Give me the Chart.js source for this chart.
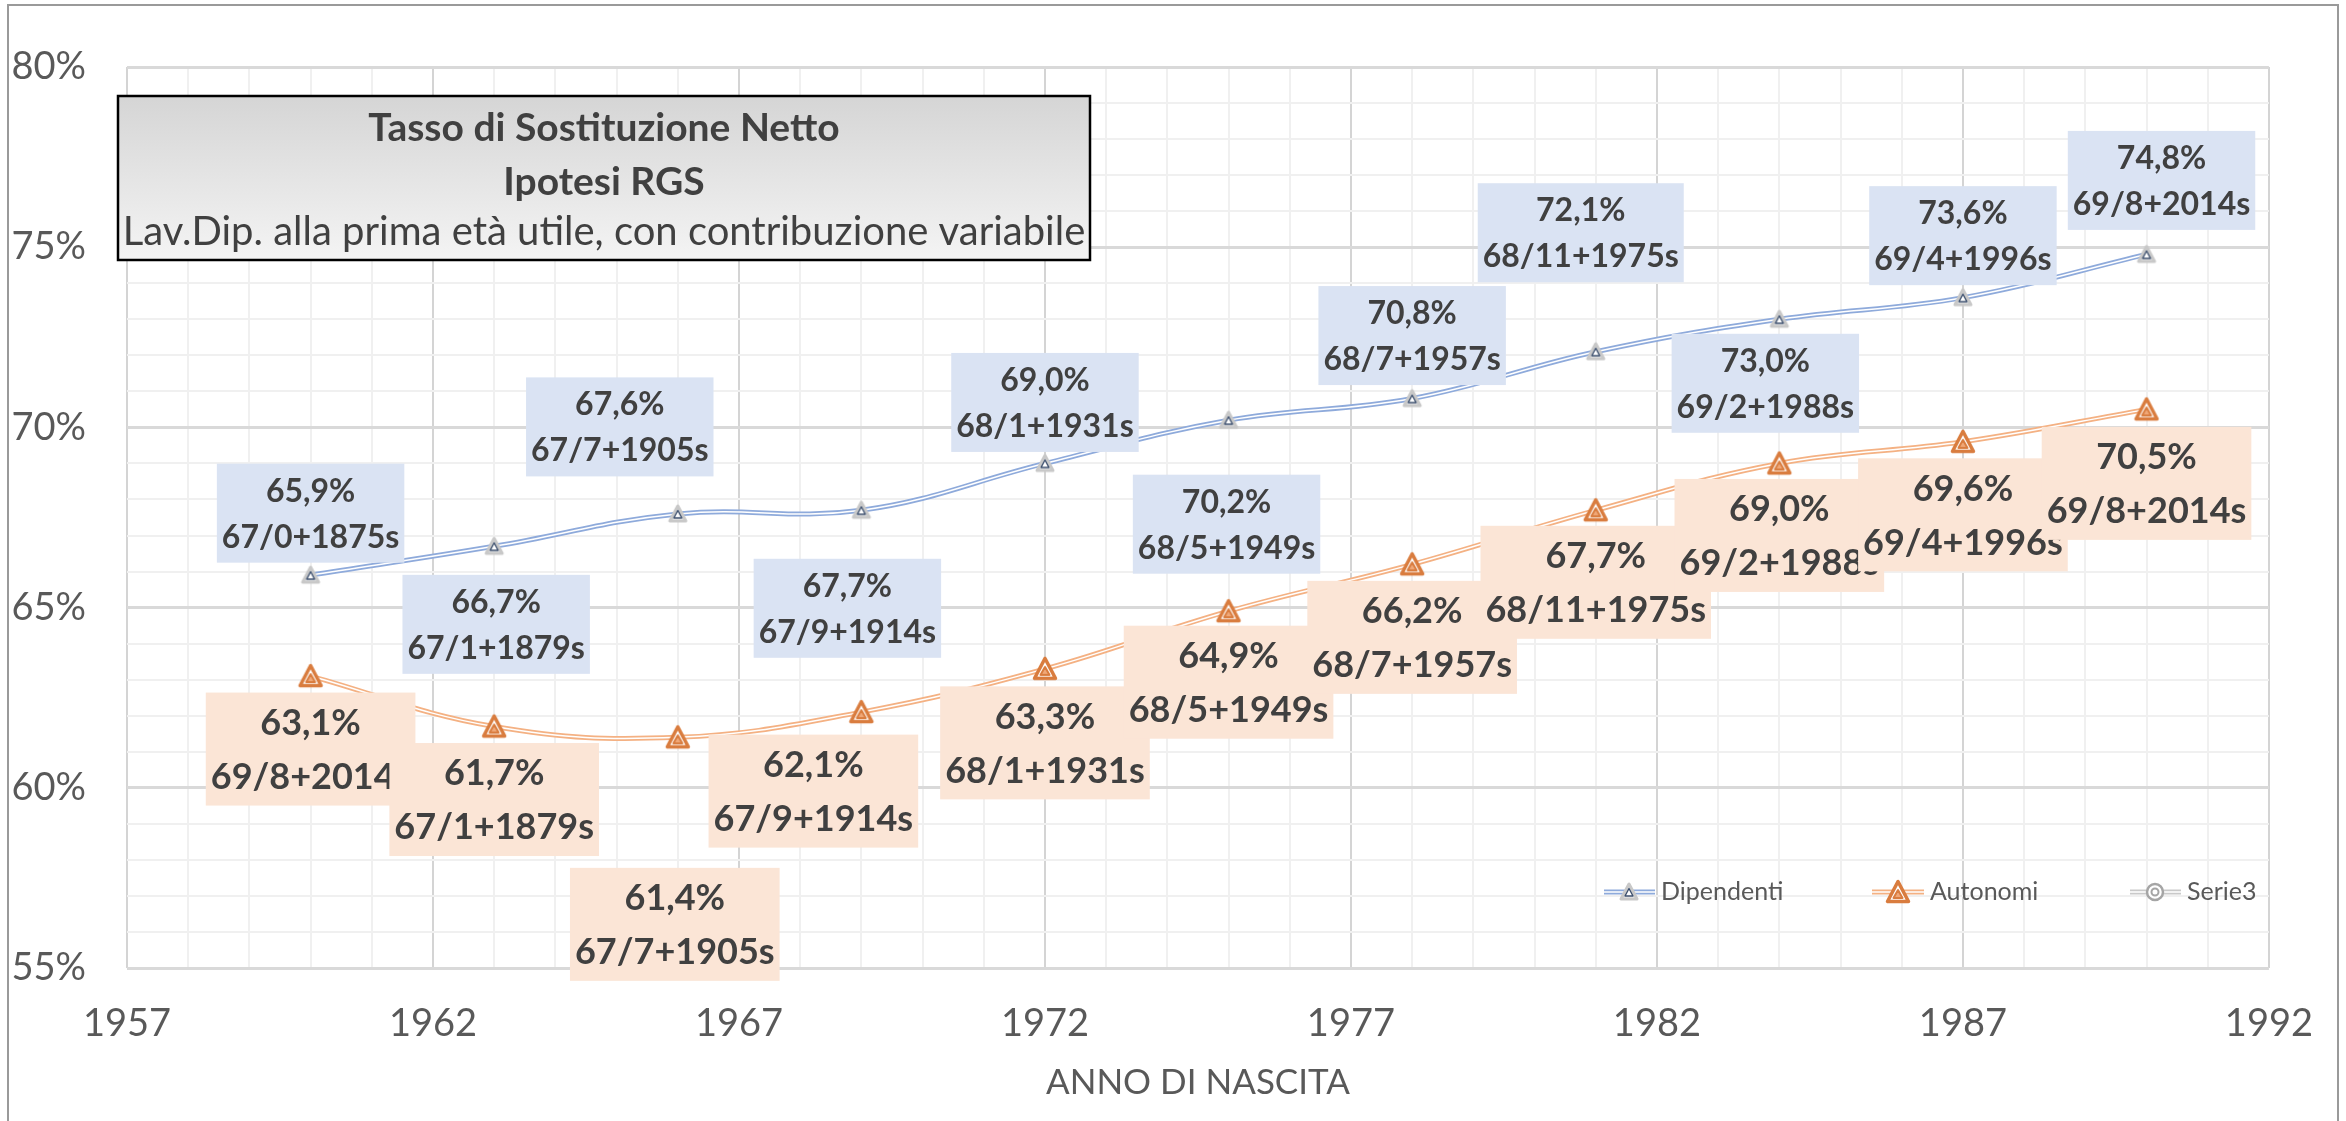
<!DOCTYPE html>
<html>
<head>
<meta charset="utf-8">
<script src="https://cdn.jsdelivr.net/npm/chart.js@4.4.1/dist/chart.umd.min.js"></script>
<style>
  body { margin: 0; background: #fff; }
</style>
</head>
<body>
<canvas id="myChart" width="2346" height="1121"></canvas>
<script>
// dati
const anni = [1960, 1963, 1966, 1969, 1972, 1975, 1978, 1981, 1984, 1987, 1990];
const dipendenti = [65.9, 66.7, 67.6, 67.7, 69.0, 70.2, 70.8, 72.1, 73.0, 73.6, 74.8];
const autonomi = [63.1, 61.7, 61.4, 62.1, 63.3, 64.9, 66.2, 67.7, 69.0, 69.6, 70.5];
const etichetteDip = ['67/0+1875s', '67/1+1879s', '67/7+1905s', '67/9+1914s', '68/1+1931s', '68/5+1949s',
  '68/7+1957s', '68/11+1975s', '69/2+1988s', '69/4+1996s', '69/8+2014s'];
const etichetteAut = ['69/8+2014s', '67/1+1879s', '67/7+1905s', '67/9+1914s', '68/1+1931s', '68/5+1949s',
  '68/7+1957s', '68/11+1975s', '69/2+1988s', '69/4+1996s', '69/8+2014s'];
const xTicks = [1957, 1962, 1967, 1972, 1977, 1982, 1987, 1992];
const yTicks = [55, 60, 65, 70, 75, 80];
const titolo = ['Tasso di Sostituzione Netto', 'Ipotesi RGS', 'Lav.Dip. alla prima età utile, con contribuzione variabile'];
const legenda = ['Dipendenti', 'Autonomi', 'Serie3'];

// spostamento dei riquadri etichetta rispetto al punto (px)
const offDip = [[0,-62],[2,78],[-58,-87],[-14,98],[0,-61],[-2,104],[0,-63],[-15,-119],[-14,64],[0,-62],[15,-74]];
const offAut = [[0,73],[0,73],[-3,187],[-48,79],[0,74],[0,71],[0,73],[0,72],[0,72],[0,73],[0,74]];

const pct = v => v.toFixed(1).replace('.', ',') + '%';
const puntiDip = anni.map((a, i) => ({ x: a, y: dipendenti[i] }));
const puntiAut = anni.map((a, i) => ({ x: a, y: autonomi[i] }));

function markerDip() {
  const c = document.createElement('canvas');
  c.width = 22; c.height = 22;
  const g = c.getContext('2d');
  g.lineJoin = 'round';
  g.beginPath(); g.moveTo(11, 3); g.lineTo(3, 18); g.lineTo(19, 18); g.closePath();
  g.fillStyle = '#f0f0f0'; g.fill();
  g.strokeStyle = '#c8c8c8'; g.lineWidth = 3; g.stroke();
  g.beginPath(); g.moveTo(11, 7.5); g.lineTo(7, 15); g.lineTo(15, 15); g.closePath();
  g.fillStyle = '#fff'; g.fill();
  g.strokeStyle = '#3c4f6d'; g.lineWidth = 1.4; g.stroke();
  return c;
}

function markerAut() {
  const c = document.createElement('canvas');
  c.width = 28; c.height = 28;
  const g = c.getContext('2d');
  g.lineJoin = 'round';
  g.beginPath(); g.moveTo(14, 3.5); g.lineTo(3.5, 23.5); g.lineTo(24.5, 23.5); g.closePath();
  g.fillStyle = '#fff'; g.fill();
  g.strokeStyle = '#d97c3e'; g.lineWidth = 3.5; g.stroke();
  g.beginPath(); g.moveTo(14, 12); g.lineTo(9.5, 20); g.lineTo(18.5, 20); g.closePath();
  g.fillStyle = '#f0a878'; g.fill();
  g.strokeStyle = '#d97c3e'; g.lineWidth = 2; g.stroke();
  return c;
}

function markerSerie3() {
  const c = document.createElement('canvas');
  c.width = 24; c.height = 24;
  const g = c.getContext('2d');
  g.beginPath(); g.arc(12, 12, 8, 0, Math.PI * 2);
  g.fillStyle = '#fff'; g.fill();
  g.strokeStyle = '#a5a5a5'; g.lineWidth = 2.5; g.stroke();
  g.beginPath(); g.arc(12, 12, 3.5, 0, Math.PI * 2);
  g.lineWidth = 2; g.stroke();
  return c;
}

function riquadro(ctx, cx, cy, r1, r2, size, gap, h, pad, fondo) {
  ctx.font = 'bold ' + size + 'px Lato';
  const w = Math.max(ctx.measureText(r1).width, ctx.measureText(r2).width) + pad * 2;
  ctx.fillStyle = fondo;
  ctx.fillRect(cx - w / 2, cy - h / 2, w, h);
  ctx.fillStyle = '#404040';
  ctx.textAlign = 'center';
  ctx.textBaseline = 'alphabetic';
  ctx.fillText(r1, cx, cy - gap + size * 0.358);
  ctx.fillText(r2, cx, cy + gap + size * 0.358);
}

function lineaDoppia(ctx, x1, x2, y, colore) {
  ctx.strokeStyle = colore; ctx.lineWidth = 5;
  ctx.beginPath(); ctx.moveTo(x1, y); ctx.lineTo(x2, y); ctx.stroke();
  ctx.strokeStyle = '#fff'; ctx.lineWidth = 1.5;
  ctx.beginPath(); ctx.moveTo(x1, y); ctx.lineTo(x2, y); ctx.stroke();
}

const mDip = markerDip();
const mAut = markerAut();
const mS3 = markerSerie3();

const sfondo = {
  id: 'sfondo',
  beforeDraw(chart) {
    const ctx = chart.ctx;
    ctx.save();
    ctx.fillStyle = '#fff';
    ctx.fillRect(0, 0, chart.width, chart.height);
    ctx.strokeStyle = '#9a9a9a';
    ctx.lineWidth = 2;
    ctx.strokeRect(8, 5, 2330, 1130);
    ctx.restore();
  }
};

const etichette = {
  id: 'etichette',
  afterDatasetsDraw(chart) {
    const ctx = chart.ctx;
    const sx = chart.scales.x, sy = chart.scales.y;
    ctx.save();
    anni.forEach((a, i) => {
      const px = sx.getPixelForValue(a), py = sy.getPixelForValue(dipendenti[i]);
      riquadro(ctx, px + offDip[i][0], py + offDip[i][1], pct(dipendenti[i]), etichetteDip[i], 32, 23, 99, 5, '#dae3f3');
    });
    anni.forEach((a, i) => {
      const px = sx.getPixelForValue(a), py = sy.getPixelForValue(autonomi[i]);
      riquadro(ctx, px + offAut[i][0], py + offAut[i][1], pct(autonomi[i]), etichetteAut[i], 36, 27, 113, 5, '#fbe5d6');
    });
    ctx.restore();
  },
  afterDraw(chart) {
    const ctx = chart.ctx;
    ctx.save();
    // riquadro del titolo
    const gr = ctx.createLinearGradient(0, 96, 0, 260);
    gr.addColorStop(0, '#d5d5d5');
    gr.addColorStop(1, '#f4f4f4');
    ctx.fillStyle = gr;
    ctx.fillRect(118, 96, 972, 164);
    ctx.strokeStyle = '#000';
    ctx.lineWidth = 2.5;
    ctx.strokeRect(118, 96, 972, 164);
    ctx.fillStyle = '#404040';
    ctx.textAlign = 'center';
    ctx.textBaseline = 'alphabetic';
    ctx.font = 'bold 39px Lato';
    ctx.fillText(titolo[0], 604, 127 + 14);
    ctx.fillText(titolo[1], 604, 181 + 14);
    ctx.font = '40px Lato';
    ctx.fillText(titolo[2], 604, 231 + 14);

    // legenda
    const yl = 892;
    ctx.font = '25px Lato';
    ctx.fillStyle = '#595959';
    ctx.textAlign = 'left';
    ctx.textBaseline = 'middle';
    lineaDoppia(ctx, 1604, 1655, yl, '#8eaadb');
    ctx.drawImage(mDip, 1629 - 11, yl - 11);
    ctx.fillText(legenda[0], 1661, yl);
    lineaDoppia(ctx, 1872, 1924, yl, '#f4b183');
    ctx.drawImage(mAut, 1898 - 14, yl - 14);
    ctx.fillText(legenda[1], 1930, yl);
    lineaDoppia(ctx, 2130, 2181, yl, '#c9c9c9');
    ctx.drawImage(mS3, 2155 - 12, yl - 12);
    ctx.fillText(legenda[2], 2187, yl);
    ctx.restore();
  }
};

function crea() {
  const ctx = document.getElementById('myChart').getContext('2d');
  new Chart(ctx, {
    type: 'line',
    data: {
      datasets: [
        { label: 'Dipendenti', data: puntiDip, borderColor: '#8eaadb', borderWidth: 5, pointRadius: 0, tension: 0.4, order: 4 },
        { label: 'Dipendenti', data: puntiDip, borderColor: '#fff', borderWidth: 1.5, pointStyle: mDip, pointRadius: 8, tension: 0.4, order: 3 },
        { label: 'Autonomi', data: puntiAut, borderColor: '#f4b183', borderWidth: 5, pointRadius: 0, tension: 0.4, order: 2 },
        { label: 'Autonomi', data: puntiAut, borderColor: '#fff', borderWidth: 1.5, pointStyle: mAut, pointRadius: 8, tension: 0.4, order: 1 },
        { label: 'Serie3', data: [], borderColor: '#c9c9c9', pointStyle: mS3, order: 5 }
      ]
    },
    options: {
      responsive: false,
      animation: false,
      devicePixelRatio: 1,
      layout: { padding: { top: 67, right: 61, left: 0, bottom: 0 } },
      plugins: { legend: { display: false }, tooltip: { enabled: false } },
      scales: {
        x: {
          type: 'linear', min: 1957, max: 1992,
          afterFit: s => { s.height = 153; },
          border: { display: false },
          grid: {
            drawTicks: false,
            color: c => xTicks.includes(c.tick.value) ? '#d4d4d4' : '#f0f0f0',
            lineWidth: 2
          },
          ticks: {
            stepSize: 1, autoSkip: false, maxRotation: 0, padding: 33,
            color: '#595959', font: { family: 'Lato', size: 38 },
            callback: v => xTicks.includes(v) ? String(v) : ''
          },
          title: {
            display: true, text: 'ANNO DI NASCITA', color: '#595959',
            font: { family: 'Lato', size: 35 }, padding: { top: 0, bottom: 17 }
          }
        },
        y: {
          min: 55, max: 80,
          afterFit: s => { s.width = 127; },
          border: { display: false },
          grid: {
            drawTicks: false,
            color: c => yTicks.includes(c.tick.value) ? '#d9d9d9' : '#f0f0f0',
            lineWidth: c => yTicks.includes(c.tick.value) ? 3 : 2
          },
          ticks: {
            stepSize: 1, autoSkip: false, padding: 41,
            color: '#595959', font: { family: 'Lato', size: 38 },
            callback: v => yTicks.includes(v) ? v + '%' : ''
          }
        }
      }
    },
    plugins: [sfondo, etichette]
  });
}

Promise.all([document.fonts.load('37px Lato'), document.fonts.load('bold 37px Lato')]).then(crea, crea);
</script>
</body>
</html>
